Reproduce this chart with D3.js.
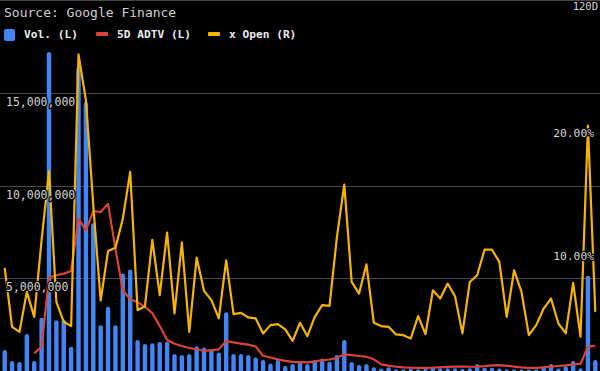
<!DOCTYPE html>
<html>
<head>
<meta charset="utf-8">
<script src="https://cdnjs.cloudflare.com/ajax/libs/d3/7.8.5/d3.min.js"></script>
<style>
  html, body { margin: 0; padding: 0; background: #000; }
  svg { display: block; }
  text { font-family: "DejaVu Sans Mono", "Liberation Mono", monospace; }
</style>
</head>
<body>
<svg id="chart" width="600" height="371"></svg>
<script>
// daily volume, millions of shares
var vol = [1.13, 0.54, 0.48, 2.0, 0.54, 2.87, 17.2, 2.74, 2.78, 1.31,
  16.4, 14.5, 7.97, 2.47, 3.46, 2.47, 5.25, 5.47, 1.67, 1.45,
  1.49, 1.56, 1.58, 0.91, 0.86, 0.91, 1.34, 1.27, 1.18, 1.0,
  3.17, 0.91, 0.91, 0.86, 0.73, 0.59, 0.41, 0.59, 0.27, 0.38,
  0.54, 0.38, 0.59, 0.68, 0.5, 0.86, 1.67, 0.48, 0.32, 0.38,
  0.2, 0.14, 0.2, 0.1, 0.1, 0.12, 0.1, 0.12, 0.2, 0.15,
  0.15, 0.15, 0.12, 0.15, 0.38, 0.18, 0.18, 0.14, 0.1, 0.1,
  0.08, 0.08, 0.1, 0.25, 0.38, 0.14, 0.25, 0.54, 0.15, 5.14, 0.59];

// 5 day average daily traded volume, millions (none for the first 4 days)
var adtv = [null, null, null, null, 0.95, 1.31, 5.04, 5.16, 5.25, 5.39,
  8.21, 7.58, 8.62, 8.57, 9.01, 6.6, 4.35, 3.87, 3.71, 3.46,
  3.12, 2.42, 1.67, 1.47, 1.35, 1.24, 1.16, 1.09, 1.13, 1.17,
  1.61, 1.54, 1.48, 1.42, 1.32, 0.82, 0.73, 0.63, 0.55, 0.49,
  0.48, 0.47, 0.51, 0.59, 0.62, 0.7, 0.9, 0.86, 0.81, 0.77,
  0.63, 0.36, 0.29, 0.23, 0.2, 0.18, 0.17, 0.17, 0.18, 0.2,
  0.22, 0.24, 0.24, 0.23, 0.24, 0.26, 0.3, 0.32, 0.28, 0.24,
  0.2, 0.17, 0.17, 0.2, 0.24, 0.27, 0.3, 0.36, 0.38, 1.31, 1.36];

// volume as a multiple of open, percent
var xOpen = [8.33, 3.57, 3.17, 6.4, 4.38, 10.6, 16.15, 5.59, 3.98, 3.63,
  25.6, 21.9, 13.4, 5.7, 9.7, 9.97, 12.3, 16.1, 4.92, 5.24,
  10.6, 6.13, 11.2, 4.65, 10.4, 3.17, 9.17, 6.48, 5.73, 4.25,
  8.95, 4.6, 4.7, 4.33, 4.25, 3.04, 3.71, 3.79, 3.36, 2.44,
  3.9, 2.82, 4.38, 5.32, 5.27, 10.83, 15.08, 7.2, 6.26, 8.63,
  3.9, 3.63, 3.57, 2.96, 2.9, 2.63, 4.44, 2.98, 6.53, 5.86,
  7.07, 6.05, 3.04, 7.2, 7.74, 9.81, 9.81, 8.82, 4.38, 8.15,
  6.4, 2.9, 3.71, 5.05, 5.86, 3.84, 3.04, 7.12, 2.77, 19.84, 4.78];

var leftTicks = [5e6, 10e6, 15e6, 20e6];
var rightTicks = [0.1, 0.2];

var W = 600, H = 371;
var blue = "#4285f4", red = "#db4437", yellow = "#f4b400";

var svg = d3.select("#chart");
var days = d3.range(vol.length);

var x = d3.scaleBand().domain(days).range([1, 599])
    .paddingInner(0.4).paddingOuter(0.2);
var cx = function(i) { return x(i) + x.bandwidth() / 2; };
var yL = d3.scaleLinear().domain([0, 20e6]).range([H, 0]);
var yR = d3.scaleLinear().domain([0, 0.3]).range([H, 0]);

// grid
svg.append("g")
    .selectAll("line")
    .data(leftTicks)
    .join("line")
    .attr("x1", 0).attr("x2", W)
    .attr("y1", function(d) { return Math.round(yL(d)) + 0.5; })
    .attr("y2", function(d) { return Math.round(yL(d)) + 0.5; })
    .attr("stroke", "#474747")
    .attr("stroke-width", 1);

// bars, rounded top, bottom corners pushed below the frame
svg.append("g")
    .selectAll("rect")
    .data(days)
    .join("rect")
    .attr("x", function(i) { return x(i); })
    .attr("width", x.bandwidth())
    .attr("y", function(i) { return yL(vol[i] * 1e6); })
    .attr("height", function(i) { return H - yL(vol[i] * 1e6) + 4; })
    .attr("rx", 2.2)
    .attr("fill", blue);

var redLine = d3.line()
    .defined(function(i) { return adtv[i] != null; })
    .x(cx)
    .y(function(i) { return yL(adtv[i] * 1e6); });

svg.append("path")
    .datum(days)
    .attr("d", redLine)
    .attr("fill", "none")
    .attr("stroke", red)
    .attr("stroke-width", 2.2)
    .attr("stroke-linejoin", "round");

var yellowLine = d3.line()
    .x(cx)
    .y(function(i) { return yR(xOpen[i] / 100); });

svg.append("path")
    .datum(days)
    .attr("d", yellowLine)
    .attr("fill", "none")
    .attr("stroke", yellow)
    .attr("stroke-width", 2.2)
    .attr("stroke-linejoin", "round");

// axis labels sit just under their tick, with a dark halo
function halo(sel) {
    sel.attr("stroke", "#000").attr("stroke-width", 2.5)
        .attr("paint-order", "stroke").attr("stroke-linejoin", "round");
}

svg.append("g")
    .selectAll("text")
    .data(leftTicks.filter(function(d) { return d < 20e6; }))
    .join("text")
    .attr("x", 6)
    .attr("y", function(d) { return yL(d) + 13; })
    .attr("font-size", 11.5)
    .attr("fill", "#d4d4d4")
    .text(d3.format(","))
    .call(halo);

svg.append("g")
    .selectAll("text")
    .data(rightTicks)
    .join("text")
    .attr("x", 594)
    .attr("y", function(d) { return yR(d) + 13; })
    .attr("text-anchor", "end")
    .attr("font-size", 11.3)
    .attr("fill", "#d4d4d4")
    .text(d3.format(".2%"))
    .call(halo);

svg.append("text")
    .attr("x", 598).attr("y", 10)
    .attr("text-anchor", "end")
    .attr("font-size", 10.5)
    .attr("fill", "#d4d4d4")
    .text("120D");

svg.append("text")
    .attr("x", 4).attr("y", 17)
    .attr("font-size", 13)
    .attr("fill", "#d0d0d0")
    .text("Source: Google Finance");

// legend
var legend = [
    { label: "Vol. (L)", color: blue, x: 4, box: true },
    { label: "5D ADTV (L)", color: red, x: 96 },
    { label: "x Open (R)", color: yellow, x: 208 }
];

var lg = svg.append("g")
    .selectAll("g")
    .data(legend)
    .join("g")
    .attr("transform", function(d) { return "translate(" + d.x + ",0)"; });

lg.append("rect")
    .attr("x", 0)
    .attr("y", function(d) { return d.box ? 29 : 32; })
    .attr("width", function(d) { return d.box ? 11 : 12; })
    .attr("height", function(d) { return d.box ? 12 : 4; })
    .attr("rx", function(d) { return d.box ? 2 : 1; })
    .attr("fill", function(d) { return d.color; });

lg.append("text")
    .attr("x", function(d) { return d.box ? 20 : 21; })
    .attr("y", 38)
    .attr("font-size", 11.2)
    .attr("font-weight", "bold")
    .attr("fill", "#ececec")
    .text(function(d) { return d.label; });
</script>
</body>
</html>
